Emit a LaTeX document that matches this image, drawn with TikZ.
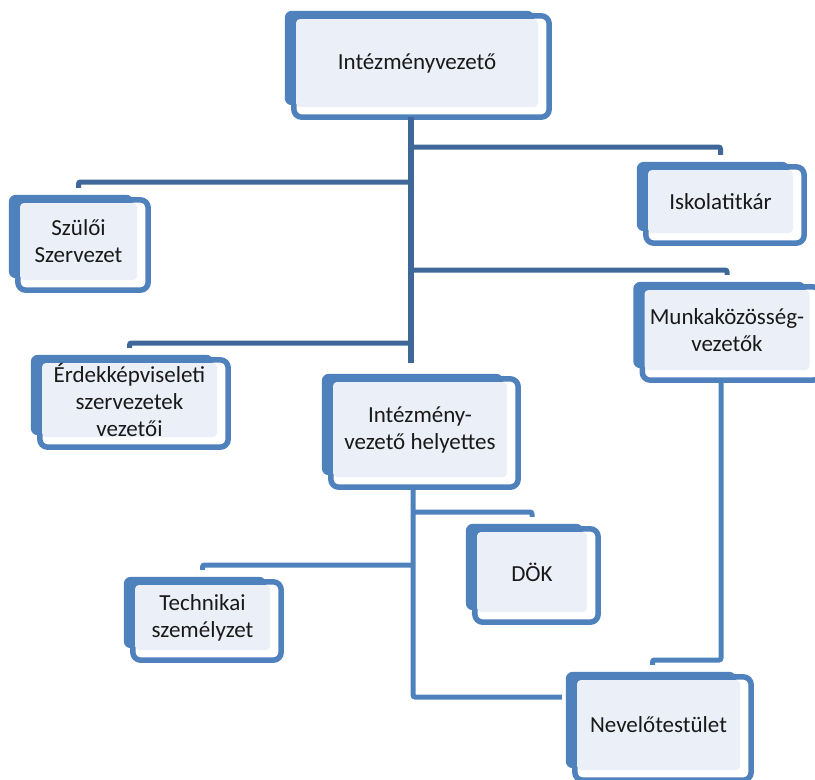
\documentclass[tikz,border=0pt]{standalone}
\usepackage{fontspec}
\setmainfont{Carlito}
\usetikzlibrary{backgrounds}

\definecolor{boxblue}{RGB}{79,129,189}
\definecolor{boxfill}{RGB}{235,240,248}
\definecolor{linedark}{RGB}{63,103,154}

\begin{document}
\begin{tikzpicture}[x=1pt, y=-1pt]
			\tikzstyle{every node}=[align=center, inner sep=0pt, text=black!90, font=\fontsize{23}{27}\selectfont]
			\tikzstyle{box}=[fill=boxfill, rounded corners=4pt]
			\tikzstyle{conn}=[linedark, line width=5pt, rounded corners=2pt]
			\tikzstyle{connlow}=[boxblue, line width=5pt, rounded corners=2pt]
				\useasboundingbox (0,0) rectangle (815,780);

				\node[box, minimum width=242, minimum height=88] (iv) at (417,63) {Intézményvezető};
				\node[box, minimum width=145, minimum height=63] (isk) at (720.5,201.5) {Iskolatitkár};
				\node[box, minimum width=117, minimum height=77] (szul) at (78.5,241.5) {Szülői\\Szervezet};
				\node[box, minimum width=165, minimum height=80] (mk) at (727,330) {Munkaközösség-\\vezetők};
				\node[box, minimum width=175, minimum height=74] (erd) at (129.5,400) {Érdekképviseleti\\szervezetek\\vezetői};
				\node[box, minimum width=174, minimum height=95] (hely) at (420,429.5) {Intézmény-\\vezető helyettes};
				\node[box, minimum width=110, minimum height=80] (dok) at (532,572) {DÖK};
				\node[box, minimum width=135, minimum height=65] (tech) at (202.5,617.5) {Technikai\\személyzet};
				\node[box, minimum width=163, minimum height=90] (nev) at (658.5,725) {Nevelőtestület};

				% box frames behind the nodes
				\begin{pgfonlayer}{background}
				\foreach \n in {iv,isk,szul,mk,erd,hely,dok,tech,nev} {
					\draw[boxblue, line width=5.5pt, fill=white, rounded corners=8pt]
						([shift={(-2pt,3pt)}]\n.north west) rectangle ([shift={(11pt,-10pt)}]\n.south east);
					\fill[boxblue, rounded corners=7pt]
						([shift={(-11pt,8pt)}]\n.north west) rectangle ([shift={(-4pt,2pt)}]\n.south east);
				}
				\end{pgfonlayer}

				\coordinate (j1) at (411,147);
				\coordinate (j2) at (411,182);
				\coordinate (j3) at (411,270);
				\coordinate (j4) at (411,343);
				\coordinate (j5) at (413,512);
				\coordinate (j6) at (413,565);
				\coordinate (mkj) at (721,660);

				\draw[conn, line width=6pt, shorten <=10pt, shorten >=19pt] ([xshift=-6pt]iv.south) -- ([xshift=-9pt]hely.north);
				\draw[conn, shorten >=15pt] (j1) -| (isk.north);
				\draw[conn, shorten >=15pt] (j2) -| (szul.north);
				\draw[conn, shorten >=15pt] (j3) -| (mk.north);
				\draw[conn, shorten >=15pt] (j4) -| (erd.north);

				\draw[connlow, shorten <=13pt, shorten >=15pt] ([xshift=-7pt]hely.south) |- ([yshift=28pt]nev.west);
				\draw[connlow, shorten >=15pt] (j5) -| (dok.north);
				\draw[connlow, shorten >=15pt] (j6) -| (tech.north);
				\draw[connlow, shorten <=10pt, shorten >=15pt] ([xshift=-6pt]mk.south) -- (mkj) -| ([xshift=-6pt]nev.north);
			\end{tikzpicture}
\end{document}
